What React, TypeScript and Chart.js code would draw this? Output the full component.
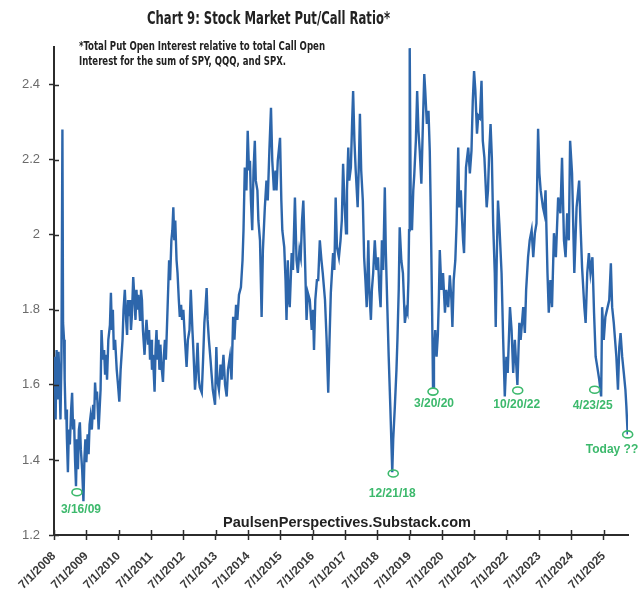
import React, { useEffect, useRef } from "react";
import { Chart, registerables } from "chart.js";

Chart.register(...registerables);

// ---------- data ----------
const dates: number[] = [
  2008.52, 2008.55, 2008.58, 2008.61, 2008.64, 2008.67, 2008.70, 2008.73, 2008.76, 2008.78,
  2008.81, 2008.83, 2008.86, 2008.88, 2008.90, 2008.93, 2008.96, 2008.99, 2009.03, 2009.06,
  2009.09, 2009.12, 2009.15, 2009.18, 2009.21, 2009.24, 2009.27, 2009.30, 2009.33, 2009.37,
  2009.41, 2009.44, 2009.47, 2009.50, 2009.54, 2009.57, 2009.60, 2009.63, 2009.67, 2009.71,
  2009.74, 2009.77, 2009.80, 2009.83, 2009.88, 2009.91, 2009.94, 2009.97, 2010.01, 2010.05,
  2010.08, 2010.11, 2010.14, 2010.18, 2010.23, 2010.26, 2010.29, 2010.32, 2010.35, 2010.39,
  2010.44, 2010.48, 2010.52, 2010.56, 2010.59, 2010.62, 2010.65, 2010.69, 2010.73, 2010.76,
  2010.79, 2010.82, 2010.85, 2010.88, 2010.91, 2010.95, 2010.99, 2011.02, 2011.05, 2011.08,
  2011.11, 2011.16, 2011.19, 2011.22, 2011.25, 2011.30, 2011.33, 2011.36, 2011.41, 2011.44,
  2011.47, 2011.50, 2011.53, 2011.56, 2011.61, 2011.64, 2011.67, 2011.70, 2011.73, 2011.76,
  2011.79, 2011.82, 2011.87, 2011.90, 2011.93, 2011.96, 2011.99, 2012.02, 2012.06, 2012.09,
  2012.13, 2012.16, 2012.19, 2012.22, 2012.25, 2012.29, 2012.32, 2012.36, 2012.39, 2012.43,
  2012.46, 2012.50, 2012.55, 2012.60, 2012.64, 2012.69, 2012.73, 2012.78, 2012.81, 2012.86,
  2012.90, 2012.94, 2012.98, 2013.01, 2013.07, 2013.11, 2013.15, 2013.18, 2013.22, 2013.25,
  2013.29, 2013.34, 2013.37, 2013.41, 2013.48, 2013.52, 2013.55, 2013.60, 2013.65, 2013.69,
  2013.74, 2013.79, 2013.84, 2013.88, 2013.94, 2013.99, 2014.04, 2014.08, 2014.13, 2014.17,
  2014.22, 2014.28, 2014.33, 2014.36, 2014.40, 2014.45, 2014.49, 2014.53, 2014.56, 2014.59,
  2014.63, 2014.67, 2014.71, 2014.74, 2014.79, 2014.82, 2014.87, 2014.92, 2014.96, 2015.02,
  2015.07, 2015.11, 2015.16, 2015.21, 2015.25, 2015.30, 2015.35, 2015.38, 2015.42, 2015.49,
  2015.53, 2015.56, 2015.62, 2015.66, 2015.69, 2015.73, 2015.76, 2015.79, 2015.85, 2015.89,
  2015.95, 2016.00, 2016.04, 2016.09, 2016.13, 2016.17, 2016.21, 2016.26, 2016.31, 2016.35,
  2016.41, 2016.47, 2016.51, 2016.54, 2016.58, 2016.63, 2016.67, 2016.72, 2016.77, 2016.81,
  2016.88, 2016.93, 2016.98, 2017.02, 2017.06, 2017.13, 2017.17, 2017.21, 2017.25, 2017.31,
  2017.36, 2017.40, 2017.44, 2017.48, 2017.53, 2017.56, 2017.60, 2017.63, 2017.68, 2017.72,
  2017.75, 2017.79, 2017.83, 2017.89, 2017.93, 2017.96, 2018.00, 2018.05, 2018.09, 2018.13,
  2018.17, 2018.22, 2018.25, 2018.30, 2018.33, 2018.37, 2018.42, 2018.47, 2018.52, 2018.56,
  2018.60, 2018.64, 2018.68, 2018.73, 2018.76, 2018.81, 2018.85, 2018.90, 2018.93, 2018.96,
  2018.99, 2019.04, 2019.09, 2019.12, 2019.16, 2019.19, 2019.24, 2019.29, 2019.35, 2019.40,
  2019.43, 2019.46, 2019.48, 2019.50, 2019.53, 2019.57, 2019.61, 2019.64, 2019.69, 2019.73,
  2019.77, 2019.81, 2019.86, 2019.91, 2019.95, 2019.98, 2020.03, 2020.08, 2020.12, 2020.15,
  2020.17, 2020.20, 2020.22, 2020.25, 2020.29, 2020.33, 2020.37, 2020.40, 2020.43, 2020.48,
  2020.53, 2020.59, 2020.63, 2020.69, 2020.74, 2020.79, 2020.82, 2020.86, 2020.91, 2020.95,
  2021.00, 2021.03, 2021.08, 2021.12, 2021.15, 2021.18, 2021.24, 2021.31, 2021.36, 2021.41,
  2021.45, 2021.49, 2021.53, 2021.58, 2021.62, 2021.67, 2021.72, 2021.76, 2021.81, 2021.88,
  2021.92, 2021.96, 2022.00, 2022.04, 2022.08, 2022.13, 2022.16, 2022.19, 2022.23, 2022.27,
  2022.34, 2022.39, 2022.44, 2022.49, 2022.53, 2022.60, 2022.65, 2022.70, 2022.75, 2022.83,
  2022.89, 2022.93, 2023.01, 2023.06, 2023.10, 2023.16, 2023.21, 2023.27, 2023.32, 2023.37,
  2023.42, 2023.47, 2023.51, 2023.55, 2023.62, 2023.66, 2023.70, 2023.76, 2023.80, 2023.85,
  2023.90, 2023.96, 2024.02, 2024.09, 2024.16, 2024.21, 2024.27, 2024.32, 2024.37, 2024.42,
  2024.46, 2024.52, 2024.59, 2024.66, 2024.74, 2024.78, 2024.83, 2024.90, 2024.94, 2024.99,
  2025.04, 2025.09, 2025.15, 2025.20, 2025.25, 2025.30, 2025.36, 2025.42, 2025.45, 2025.50,
  2025.55, 2025.62, 2025.67, 2025.72, 2025.76, 2025.81, 2025.89, 2025.94, 2025.98, 2026.02,
  2026.07, 2026.12, 2026.17, 2026.20, 2026.24,
];

const putCallRatio: number[] = [
  1.675, 1.508, 1.693, 1.561, 1.688, 1.614, 1.508, 1.667, 2.28, 1.765,
  1.72, 1.614, 1.508, 1.534, 1.455, 1.367, 1.481, 1.441, 1.534, 1.579,
  1.481, 1.508, 1.402, 1.33, 1.455, 1.375, 1.481, 1.5, 1.428, 1.375,
  1.29, 1.402, 1.455, 1.394, 1.468, 1.415, 1.494, 1.516, 1.481, 1.547,
  1.508, 1.606, 1.561, 1.582, 1.481, 1.534, 1.587, 1.746, 1.667, 1.693,
  1.627, 1.68, 1.614, 1.72, 1.76, 1.845, 1.746, 1.8, 1.693, 1.72,
  1.64, 1.6, 1.555, 1.64, 1.68, 1.72, 1.8, 1.853, 1.773, 1.733,
  1.826, 1.786, 1.826, 1.746, 1.786, 1.887, 1.826, 1.773, 1.853, 1.8,
  1.84, 1.773, 1.853, 1.826, 1.746, 1.68, 1.733, 1.773, 1.707, 1.746,
  1.667, 1.72, 1.64, 1.68, 1.582, 1.693, 1.746, 1.667, 1.72, 1.64,
  1.707, 1.654, 1.608, 1.68, 1.72, 1.667, 1.746, 1.826, 1.932, 1.879,
  1.985, 2.012, 2.073, 1.985, 2.038, 1.932, 1.898, 1.826, 1.781, 1.813,
  1.773, 1.8, 1.72, 1.648, 1.72, 1.746, 1.853, 1.746, 1.693, 1.587,
  1.64, 1.712, 1.614, 1.593, 1.579, 1.667, 1.765, 1.8, 1.858, 1.773,
  1.72, 1.667, 1.632, 1.587, 1.547, 1.701, 1.614, 1.587, 1.654, 1.614,
  1.68, 1.6, 1.569, 1.64, 1.675, 1.614, 1.781, 1.72, 1.813, 1.773,
  1.84, 1.86, 1.932, 2.012, 2.179, 2.118, 2.277, 2.171, 2.197, 2.091,
  2.012, 2.171, 2.25, 2.144, 2.118, 2.038, 1.985, 1.781, 1.959, 2.073,
  2.144, 2.091, 2.224, 2.338, 2.197, 2.118, 2.171, 2.118, 2.197, 2.258,
  2.091, 2.012, 1.967, 1.879, 1.773, 1.932, 1.826, 1.807, 1.951, 1.906,
  2.099, 1.932, 1.898, 1.959, 1.94, 2.038, 2.091, 1.94, 1.773, 1.845,
  1.826, 1.746, 1.8, 1.693, 1.826, 1.879, 1.879, 1.985, 1.932, 1.898,
  1.826, 1.72, 1.579, 1.72, 1.845, 1.951, 1.906, 2.099, 1.967, 1.94,
  1.985, 2.038, 2.189, 2.091, 2.004, 2.118, 2.232, 2.144, 2.179, 2.303,
  2.383, 2.25, 2.171, 2.073, 2.197, 2.322, 2.171, 2.091, 1.94, 1.879,
  1.807, 1.985, 1.853, 1.773, 1.853, 1.898, 1.985, 1.906, 1.94, 1.853,
  1.807, 1.985, 1.906, 2.126, 1.959, 1.8, 1.675, 1.542, 1.455, 1.367,
  1.455, 1.542, 1.64, 1.72, 1.853, 2.02, 1.932, 1.898, 1.765, 1.8,
  1.792, 1.879, 2.012, 2.497, 2.091, 2.012, 2.118, 2.158, 2.25, 2.383,
  2.277, 2.224, 2.136, 2.303, 2.428, 2.383, 2.295, 2.33, 2.224, 2.065,
  1.94, 1.746, 1.595, 1.675, 1.746, 1.675, 1.733, 1.826, 1.959, 1.853,
  1.898, 1.792, 1.853, 1.807, 1.892, 1.826, 1.754, 1.879, 1.932, 2.03,
  2.232, 2.073, 2.118, 2.038, 1.985, 1.951, 2.179, 2.232, 2.163, 2.224,
  2.357, 2.436, 2.383, 2.269, 2.317, 2.311, 2.41, 2.25, 2.205, 2.073,
  2.118, 2.224, 2.295, 2.205, 2.03, 1.898, 1.754, 1.932, 2.091, 2.03,
  1.898, 1.72, 1.569, 1.675, 1.632, 1.807, 1.746, 1.632, 1.72, 1.6,
  1.765, 1.72, 1.807, 1.738, 1.853, 1.94, 1.985, 2.012, 1.94, 2.004,
  2.03, 2.282, 2.163, 2.118, 2.073, 2.057, 2.118, 1.898, 1.792, 1.879,
  1.807, 2.004, 1.94, 2.099, 2.057, 2.205, 1.985, 1.94, 2.057, 1.985,
  2.25, 2.163, 1.898, 2.073, 2.144, 2.03, 1.913, 1.807, 1.765, 1.898,
  1.951, 1.898, 1.94, 1.792, 1.675, 1.648, 1.614, 1.569, 1.807, 1.72,
  1.781, 1.807, 1.826, 1.924, 1.807, 1.765, 1.675, 1.587, 1.70, 1.738,
  1.675, 1.632, 1.587, 1.542, 1.468,
];

const xTickDates: number[] = [
  2008.5, 2009.5, 2010.5, 2011.5, 2012.5, 2013.5, 2014.5, 2015.5, 2016.5,
  2017.5, 2018.5, 2019.5, 2020.5, 2021.5, 2022.5, 2023.5, 2024.5, 2025.5,
];
const xTickLabels: string[] = [
  "7/1/2008", "7/1/2009", "7/1/2010", "7/1/2011", "7/1/2012", "7/1/2013",
  "7/1/2014", "7/1/2015", "7/1/2016", "7/1/2017", "7/1/2018", "7/1/2019",
  "7/1/2020", "7/1/2021", "7/1/2022", "7/1/2023", "7/1/2024", "7/1/2025",
];
const yTickValues: number[] = [1.2, 1.4, 1.6, 1.8, 2, 2.2, 2.4];
const yTickLabels: string[] = ["1.2", "1.4", "1.6", "1.8", "2", "2.2", "2.4"];

// marked lows
const markLabels: string[] = ["3/16/09", "12/21/18", "3/20/20", "10/20/22", "4/23/25", "Today ???"];
const markDates: number[] = [2009.21, 2018.99, 2020.22, 2022.84, 2025.22, 2026.24];
const markValues: number[] = [1.314, 1.364, 1.582, 1.585, 1.587, 1.468];

// ---------- styling ----------
const LINE_COLOR = "#2d66ab";
const AXIS_COLOR = "#2b2b2b";
const GREEN = "#3cb96c";
const markLabelOffsets: [number, number][] = [
  [4, 17], [-1, 20], [1, 12], [-1, 14], [-2, 16], [-12, 15],
];

function fitText(ctx: CanvasRenderingContext2D, text: string, x: number, y: number, width: number, align: "left" | "center") {
  const w = ctx.measureText(text).width;
  const s = width / w;
  ctx.save();
  ctx.translate(x, y);
  ctx.scale(s, 1);
  ctx.textAlign = align;
  ctx.fillText(text, 0, 0);
  ctx.restore();
}

const overlayPlugin = {
  id: "overlay",
  afterDatasetsDraw(chart: any) {
    const { ctx, scales } = chart;
    const x = scales.x;
    const y = scales.y;
    ctx.save();
    // inner halves of the crossing tick marks
    ctx.strokeStyle = AXIS_COLOR;
    ctx.lineWidth = 1.5;
    ctx.beginPath();
    y.ticks.forEach((t: any) => {
      const py = Math.round(y.getPixelForValue(t.value)) + 0.5;
      ctx.moveTo(x.left, py);
      ctx.lineTo(x.left + 5, py);
    });
    x.ticks.forEach((t: any) => {
      const px = Math.round(x.getPixelForValue(t.value)) + 0.5;
      ctx.moveTo(px, y.bottom);
      ctx.lineTo(px, y.bottom - 5);
    });
    ctx.stroke();

    // marked lows
    ctx.strokeStyle = GREEN;
    ctx.fillStyle = GREEN;
    ctx.lineWidth = 1.6;
    ctx.font = "bold 12px 'Liberation Sans', Arial, sans-serif";
    ctx.textAlign = "center";
    ctx.textBaseline = "middle";
    markDates.forEach((d, i) => {
      const px = x.getPixelForValue(d);
      const py = y.getPixelForValue(markValues[i]);
      ctx.beginPath();
      ctx.ellipse(px, py, 5, 3.5, 0, 0, Math.PI * 2);
      ctx.stroke();
      const [dx, dy] = markLabelOffsets[i];
      ctx.fillText(markLabels[i], px + dx, py + dy);
    });

    // texts
    ctx.fillStyle = "#222";
    ctx.font = "bold 17px 'DejaVu Sans Condensed', 'Liberation Sans', sans-serif";
    fitText(ctx, "Chart 9: Stock Market Put/Call Ratio*", 268.5, 20, 243, "center");

    ctx.font = "bold 12px 'DejaVu Sans Condensed', 'Liberation Sans', sans-serif";
    fitText(ctx, "*Total Put Open Interest relative to total Call Open", 79, 47, 246, "left");
    fitText(ctx, "Interest for the sum of SPY, QQQ, and SPX.", 79, 62, 207, "left");

    ctx.font = "bold 14px 'Liberation Sans', Arial, sans-serif";
    fitText(ctx, "PaulsenPerspectives.Substack.com", 347, 523, 248, "center");
    ctx.restore();
  },
};

export default function App() {
  const canvasRef = useRef<HTMLCanvasElement | null>(null);

  useEffect(() => {
    document.body.style.margin = "0";
    const canvas = canvasRef.current;
    if (!canvas) return;
    const chart = new Chart(canvas, {
      type: "line",
      data: {
        datasets: [
          {
            label: "Put/Call Ratio",
            data: dates.map((d, i) => ({ x: d, y: putCallRatio[i] })),
            borderColor: LINE_COLOR,
            borderWidth: 2.4,
            pointRadius: 0,
            tension: 0,
            fill: false,
          },
        ],
      },
      options: {
        animation: false,
        responsive: true,
        maintainAspectRatio: false,
        layout: { padding: { top: 47, right: 10, left: 0, bottom: 0 } },
        plugins: { legend: { display: false }, title: { display: false }, tooltip: { enabled: false } },
        scales: {
          x: {
            type: "linear",
            min: 2008.5,
            max: 2026.25,
            afterFit: (scale: any) => {
              scale.height = 58;
            },
            afterBuildTicks: (scale: any) => {
              scale.ticks = xTickDates.map((v) => ({ value: v }));
            },
            grid: {
              drawOnChartArea: false,
              drawTicks: true,
              tickLength: 5,
              tickColor: AXIS_COLOR,
              tickWidth: 1.5,
            },
            border: { display: true, color: AXIS_COLOR, width: 2 },
            ticks: {
              autoSkip: false,
              maxRotation: 45,
              minRotation: 45,
              padding: 9,
              color: "#3a3a3a",
              font: { family: "'Liberation Sans', Arial, sans-serif", size: 12, weight: "bold" },
              callback: (_v: any, i: number) => xTickLabels[i],
            },
          },
          y: {
            type: "linear",
            min: 1.2,
            max: 2.5,
            afterFit: (scale: any) => {
              scale.width = 54;
            },
            afterBuildTicks: (scale: any) => {
              scale.ticks = yTickValues.map((v) => ({ value: v }));
            },
            grid: {
              drawOnChartArea: false,
              drawTicks: true,
              tickLength: 5,
              tickColor: AXIS_COLOR,
              tickWidth: 1.5,
            },
            border: { display: true, color: AXIS_COLOR, width: 2 },
            ticks: {
              padding: 9,
              color: "#6b6b6b",
              font: { family: "'Liberation Sans', Arial, sans-serif", size: 13 },
              callback: (_v: any, i: number) => yTickLabels[i],
            },
          },
        },
      },
      plugins: [overlayPlugin],
    });
    return () => chart.destroy();
  }, []);

  return (
    <div style={{ width: 638, height: 593, position: "relative" }}>
      <canvas ref={canvasRef} />
    </div>
  );
}
